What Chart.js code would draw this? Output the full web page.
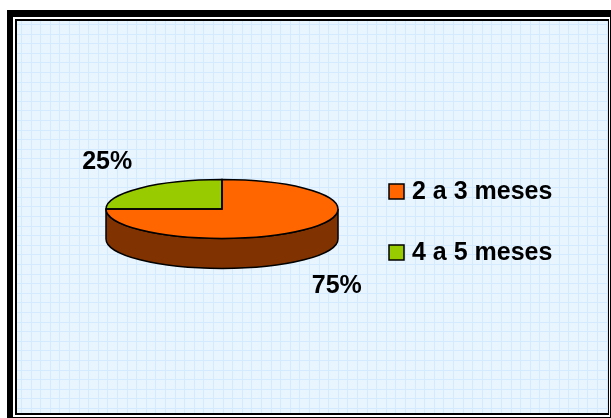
<!DOCTYPE html>
<html>
<head>
<meta charset="utf-8">
<script src="https://cdn.jsdelivr.net/npm/chart.js@4/dist/chart.umd.min.js"></script>
<style>
html,body{margin:0;padding:0;background:#ffffff;}
#wrap{width:611px;height:418px;position:relative;}
</style>
</head>
<body>
<div id="wrap"><canvas id="c" width="611" height="418"></canvas></div>
<script>
const categories = ["2 a 3 meses", "4 a 5 meses"];
const values = [75, 25];
const topColors = ["#FF6600", "#99CC00"];
const sideColors = ["#803300", "#4D6600"];

const SQUASH = 0.254;   // vertical tilt of the pie
const DEPTH = 30;       // thickness of the pie
const FONT = "bold 25px 'Liberation Sans', Arial, sans-serif";

const framePlugin = {
  id: 'frame',
  beforeDraw(chart) {
    const ctx = chart.ctx;
    ctx.save();
    ctx.fillStyle = '#ffffff';
    ctx.fillRect(0, 0, 611, 418);
    ctx.fillStyle = '#000000';
    ctx.fillRect(7, 10, 604, 408);
    ctx.fillStyle = '#ffffff';
    ctx.fillRect(13, 17, 597, 400);
    ctx.fillStyle = '#000000';
    ctx.fillRect(15, 19, 594, 396);
    const bx = 17, by = 21, bw = 591, bh = 392;
    ctx.fillStyle = '#E8F5FF';
    ctx.fillRect(bx, by, bw, bh);
    ctx.beginPath();
    ctx.rect(bx, by, bw, bh);
    ctx.clip();
    ctx.fillStyle = '#D3EAFF';
    const step = 9.6;
    for (let i = 0; bx + i * step < bx + bw; i++) {
      ctx.fillRect(Math.round(bx + 4 + i * step), by, 1, bh);
    }
    for (let j = 0; by + j * step < by + bh; j++) {
      ctx.fillRect(bx, Math.round(by + 3 + j * step), bw, 1);
    }
    ctx.restore();
  }
};

function frontRanges(s, e) {
  const out = [];
  for (let k = -2; k <= 2; k++) {
    const lo = Math.max(s, 0 + k * 2 * Math.PI);
    const hi = Math.min(e, Math.PI + k * 2 * Math.PI);
    if (hi > lo) out.push([lo, hi]);
  }
  return out;
}

const pie3dPlugin = {
  id: 'pie3d',
  beforeDatasetsDraw(chart) {
    const ctx = chart.ctx;
    const meta = chart.getDatasetMeta(0);
    const arc0 = meta.data[0];
    const cx = arc0.x, cy = arc0.y, rx = arc0.outerRadius, ry = rx * SQUASH;
    ctx.save();
    meta.data.forEach((arc, i) => {
      frontRanges(arc.startAngle, arc.endAngle).forEach(([a1, a2]) => {
        ctx.beginPath();
        ctx.ellipse(cx, cy, rx, ry, 0, a1, a2, false);
        ctx.lineTo(cx + rx * Math.cos(a2), cy + ry * Math.sin(a2) + DEPTH);
        ctx.ellipse(cx, cy + DEPTH, rx, ry, 0, a2, a1, true);
        ctx.closePath();
        ctx.fillStyle = sideColors[i];
        ctx.fill();
        ctx.lineWidth = 1.5;
        ctx.strokeStyle = '#000000';
        ctx.stroke();
      });
    });
    ctx.restore();
    ctx.save();
    ctx.translate(cx, cy);
    ctx.scale(1, SQUASH);
    ctx.translate(-cx, -cy);
  },
  afterDatasetsDraw(chart) {
    const ctx = chart.ctx;
    ctx.restore();
    const meta = chart.getDatasetMeta(0);
    const data = chart.data.datasets[0].data;
    const total = data.reduce((a, b) => a + b, 0);
    ctx.save();
    ctx.strokeStyle = '#000000';
    ctx.lineWidth = 1.5;
    meta.data.forEach((arc) => {
      const cx = arc.x, cy = arc.y, rx = arc.outerRadius, ry = rx * SQUASH;
      ctx.beginPath();
      ctx.moveTo(cx, cy);
      ctx.ellipse(cx, cy, rx, ry, 0, arc.startAngle, arc.endAngle, false);
      ctx.closePath();
      ctx.stroke();
    });
    ctx.fillStyle = '#000000';
    ctx.font = FONT;
    ctx.textAlign = 'center';
    ctx.textBaseline = 'middle';
    meta.data.forEach((arc, i) => {
      const cx = arc.x, cy = arc.y, rx = arc.outerRadius, ry = rx * SQUASH;
      const m = (arc.startAngle + arc.endAngle) / 2;
      const x = cx + 1.4 * rx * Math.cos(m);
      let y = cy + 2.25 * ry * Math.sin(m);
      if (Math.sin(m) > 0) y += DEPTH;
      const pct = Math.round(data[i] / total * 100) + '%';
      ctx.fillText(pct, x, y);
    });
    ctx.textAlign = 'left';
    const lx = 389, ly0 = 191.5, gap = 61;
    chart.data.labels.forEach((lab, i) => {
      const y = ly0 + i * gap;
      ctx.fillStyle = topColors[i];
      ctx.fillRect(lx, y - 7.5, 15, 15);
      ctx.lineWidth = 1.5;
      ctx.strokeStyle = '#000000';
      ctx.strokeRect(lx, y - 7.5, 15, 15);
      ctx.fillStyle = '#000000';
      ctx.fillText(lab, lx + 23, y + 1);
    });
    ctx.restore();
  }
};

new Chart(document.getElementById('c'), {
  type: 'pie',
  data: {
    labels: categories,
    datasets: [{
      data: values,
      backgroundColor: topColors,
      borderWidth: 0
    }]
  },
  options: {
    responsive: false,
    animation: false,
    events: [],
    layout: { padding: { left: 106, right: 273, top: 92.5, bottom: 92.5 } },
    plugins: {
      legend: { display: false },
      tooltip: { enabled: false },
      title: { display: false }
    }
  },
  plugins: [framePlugin, pie3dPlugin]
});
</script>
</body>
</html>
